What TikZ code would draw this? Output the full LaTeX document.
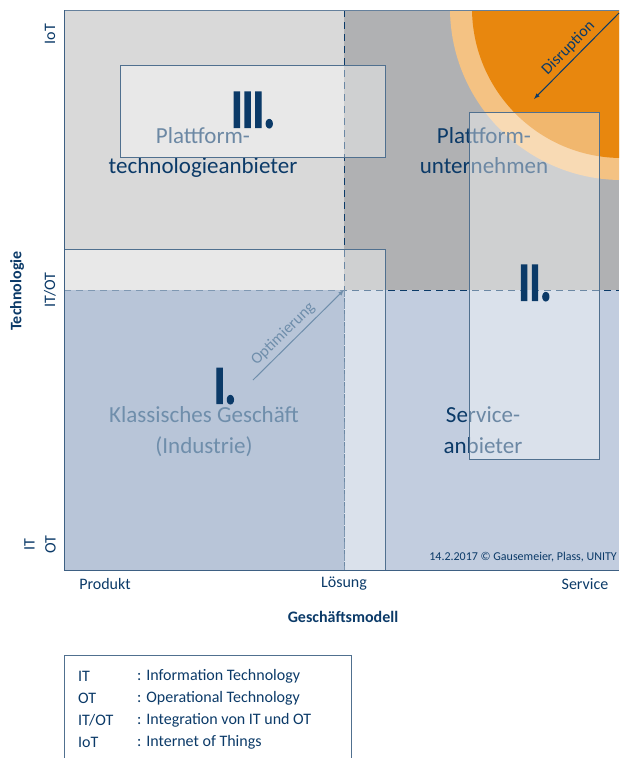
\documentclass[tikz,border=0pt]{standalone}
\usepackage{fontspec}
\setmainfont{Carlito}
\newfontfamily\numfont{Carlito}[UprightFont={* Bold}, FakeBold=3]
\definecolor{navy}{HTML}{0B3A68}
\definecolor{lightgrey}{HTML}{D9D9D9}
\definecolor{darkgrey}{HTML}{B0B1B3}
\definecolor{paleblue}{HTML}{C2CDDF}
\definecolor{quadblue}{HTML}{B8C5D8}
\definecolor{boxline}{HTML}{50708F}
\definecolor{dashlight}{HTML}{7F98B2}
\definecolor{fadedtext}{HTML}{6F8EAB}
\definecolor{orangecore}{HTML}{E8870E}
\definecolor{orangering}{HTML}{F4C283}
\definecolor{frameline}{HTML}{3E6083}
\begin{document}
\begin{tikzpicture}[x=1pt,y=-1pt,
  every node/.style={inner sep=0pt},
  fieldtext/.style={font=\fontsize{23}{28}\selectfont, text=navy, anchor=base},
  numeral/.style={font=\fontsize{54}{54}\numfont, text=navy},
  axislabel/.style={font=\fontsize{16}{21}\selectfont, text=navy},
  axistitle/.style={font=\fontsize{16}{21}\selectfont\bfseries, text=navy},
  legendtext/.style={font=\fontsize{16}{21}\selectfont, text=navy, anchor=west},
  arrowtext/.style={font=\fontsize{16}{16}\selectfont, sloped, above=4pt},
  divider/.style={dash pattern=on 7pt off 5pt, line width=0.9pt},
  overlay/.style={fill=white, fill opacity=0.4},
  fieldbox/.style={draw=boxline, line width=0.8pt}]
\useasboundingbox (0,0) rectangle (619,758);
\fill [lightgrey] (64,10) rectangle (344,290);
\fill [darkgrey] (344,10) rectangle (619,290);
\fill [paleblue] (344,290) rectangle (619,570);
\begin{scope}
\clip (64,10) rectangle (619,290);
\fill [orangering] (622,8) circle (172);
\fill [orangecore] (622,8) circle (150);
\end{scope}
\draw [navy, divider] (64,290) -- (619,290);
\draw [navy, divider] (344,10) -- (344,570);
\node [fieldtext] (ptech1) at (203,143) {Plattform-};
\node [fieldtext] (ptech2) at (203,173) {technologieanbieter};
\node [fieldtext] (punt1) at (484,143) {Plattform-};
\node [fieldtext] (punt2) at (484,173) {unternehmen};
\node [fieldtext] (serv1) at (483,422) {Service-};
\node [fieldtext] (serv2) at (483,453) {anbieter};
\coordinate (disrstart) at (619,13);
\coordinate (disrend) at (534,99);
\draw [navy, line width=1pt, <-, >=latex] (disrend) -- node [arrowtext, text=navy] (disr) {Disruption} (disrstart);
\fill [overlay] (120,65) rectangle (385,157);
\fill [overlay] (469,112) rectangle (599,459);
\fill [overlay] (64,249) rectangle (385,570);
\fill [quadblue] (64,290) rectangle (344,570);
\draw [dashlight, divider] (64,290) -- (344,290);
\draw [dashlight, divider] (344,290) -- (344,570);
\node [fieldtext, text=fadedtext] (klass1) at (204,422) {Klassisches Geschäft};
\node [fieldtext, text=fadedtext] (klass2) at (204,453) {(Industrie)};
\coordinate (optstart) at (253,380);
\coordinate (optend) at (344,290);
\draw [fadedtext, line width=1pt, ->, >=latex] (optstart) -- node [arrowtext, pos=0.42, text=fadedtext] (opt) {Optimierung} (optend);
\draw [fieldbox] (120,65) rectangle (385,157);
\draw [fieldbox] (469,112) rectangle (599,459);
\draw [fieldbox] (64,249) rectangle (385,570);
\node [numeral] (numiii) at (253,110) {\scalebox{0.75}[1]{III.}};
\node [numeral] (numii) at (535,283) {\scalebox{0.75}[1]{II.}};
\node [numeral] (numi) at (225,386) {\scalebox{0.75}[1]{I.}};
\draw [frameline!80!white, line width=0.8pt] (64,10) -- (619,10);
\draw [frameline, line width=1pt] (64,10) -- (64,570) -- (619,570);
\node [axislabel, rotate=90] (iot) at (50,34) {IoT};
\node [axislabel, rotate=90] (itot) at (50,290) {IT/OT};
\node [axislabel, rotate=90, align=center] (itbase) at (40,545) {IT\\OT};
\node [axistitle, rotate=90] (techtitle) at (17,291) {Technologie};
\node [axislabel] (produkt) at (105,584) {Produkt};
\node [axislabel] (loesung) at (344,584) {Lösung};
\node [axislabel] (service) at (585,584) {Service};
\node [axistitle] (gmtitle) at (343,617) {Geschäftsmodell};
\node [font=\fontsize{12}{12}\selectfont, text=navy, anchor=east] (copy) at (617,557) {14.2.2017 © Gausemeier, Plass, UNITY};
\draw [boxline, line width=0.8pt] (64,758) -- (64,655) -- (351,655) -- (351,758);
\node [legendtext] (abit) at (78,676) {IT};
\node [legendtext] (abot) at (78,698) {OT};
\node [legendtext] (abitot) at (78,720) {IT/OT};
\node [legendtext] (abiot) at (78,742) {IoT};
\node [legendtext] (descit) at (137,676) {: Information Technology};
\node [legendtext] (descot) at (137,698) {: Operational Technology};
\node [legendtext] (descitot) at (137,720) {: Integration von IT und OT};
\node [legendtext] (desciot) at (137,742) {: Internet of Things};
\end{tikzpicture}
\end{document}
